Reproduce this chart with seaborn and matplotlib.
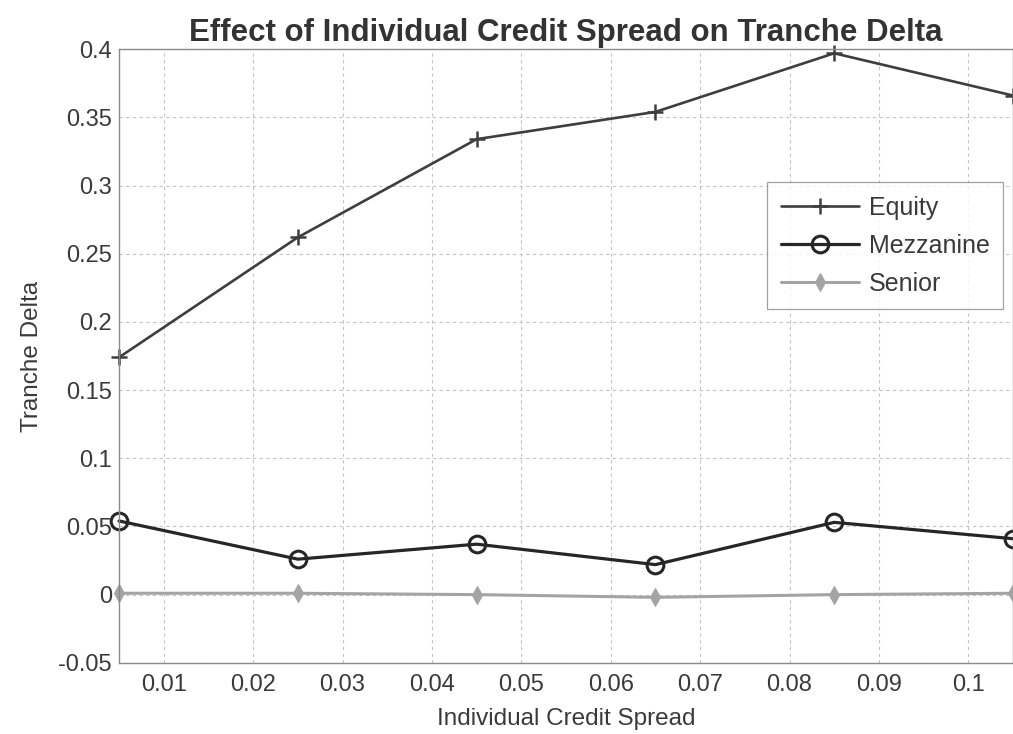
import matplotlib
matplotlib.use("Agg")
import matplotlib.pyplot as plt
import seaborn as sns
import pandas as pd

spread = [0.005, 0.025, 0.045, 0.065, 0.085, 0.105]
equity = [0.174, 0.262, 0.334, 0.354, 0.397, 0.366]
mezzanine = [0.054, 0.026, 0.037, 0.022, 0.053, 0.041]
senior = [0.001, 0.001, 0.0, -0.002, 0.0, 0.001]
x_ticks = [0.01, 0.02, 0.03, 0.04, 0.05, 0.06, 0.07, 0.08, 0.09, 0.1]
y_ticks = [-0.05, 0, 0.05, 0.1, 0.15, 0.2, 0.25, 0.3, 0.35, 0.4]

sns.set_theme(style="white")
plt.rcParams["font.family"] = ["Liberation Sans", "DejaVu Sans"]

fig = plt.figure(figsize=(10.13, 7.34), dpi=100)
ax = fig.add_axes([0.1175, 0.097, 0.8825, 0.836])

series = [
    ("Equity", equity, "#3e3e3e", "+", 1.9,
     dict(markersize=12, markeredgewidth=1.8, markeredgecolor="#3e3e3e")),
    ("Mezzanine", mezzanine, "#262626", "o", 2.3,
     dict(markersize=12, markerfacecolor="none", markeredgewidth=2.2, markeredgecolor="#262626")),
    ("Senior", senior, "#a4a4a4", "d", 2.2,
     dict(markersize=9, markerfacecolor="#a4a4a4", markeredgecolor="#a4a4a4")),
]

for name, vals, color, marker, lw, mk in series:
    df = pd.DataFrame({"spread": spread, "delta": vals})
    sns.lineplot(data=df, x="spread", y="delta", ax=ax, color=color, marker=marker,
                 linewidth=lw, label=name, clip_on=False, **mk)

ax.set_xlim(0.005, 0.105)
ax.set_ylim(-0.05, 0.4)
ax.set_xticks(x_ticks)
ax.set_xticklabels([f"{v:g}" for v in x_ticks])
ax.set_yticks(y_ticks)
ax.set_yticklabels([f"{v:g}" for v in y_ticks])
ax.tick_params(axis="both", labelsize=17, colors="#3a3a3a", direction="in", length=4, pad=5)
ax.tick_params(axis="x", pad=8)

ax.grid(True, linestyle=(0, (3, 3)), color="#c4c4c4", linewidth=0.8)
for side in ["left", "bottom", "top", "right"]:
    ax.spines[side].set_color("#8a8a8a")
    ax.spines[side].set_linewidth(1.0)

ax.set_title("Effect of Individual Credit Spread on Tranche Delta", fontsize=22.5,
             fontweight="bold", color="#333333", pad=6)
ax.set_xlabel("Individual Credit Spread", fontsize=17.5, color="#3a3a3a", labelpad=9)
ax.set_ylabel("Tranche Delta", fontsize=17.5, color="#3a3a3a", labelpad=11)

leg = ax.legend(loc="upper right", bbox_to_anchor=(0.989, 0.783), fontsize=18,
                frameon=True, fancybox=False, handlelength=3.1, borderpad=0.55,
                labelspacing=0.55, handletextpad=0.4, borderaxespad=0.0)
leg.get_frame().set_edgecolor("#8a8a8a")
leg.get_frame().set_linewidth(0.9)
for t in leg.get_texts():
    t.set_color("#3a3a3a")

fig.savefig("out.png", dpi=100, facecolor="white")
